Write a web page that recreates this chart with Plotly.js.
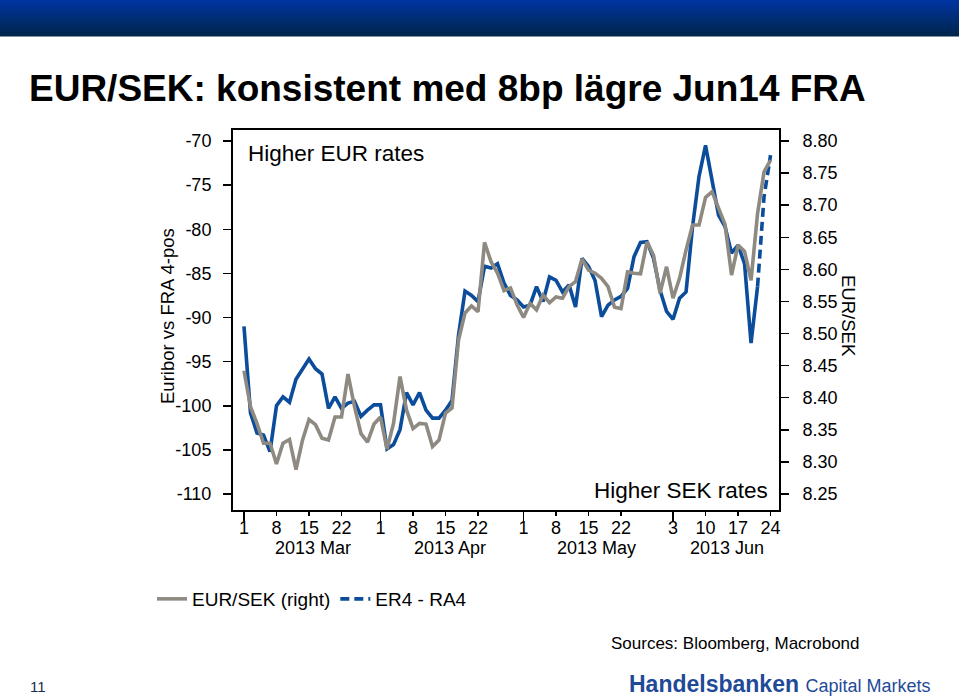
<!DOCTYPE html>
<html>
<head>
<meta charset="utf-8">
<script src="https://cdn.plot.ly/plotly-3.0.1.min.js"></script>
<style>
  html, body { margin: 0; padding: 0; background: #ffffff; }
  #chart { width: 959px; height: 700px; }
</style>
</head>
<body>
<div id="chart"></div>
<script>
// ---------------- data ----------------
const dates = [
  '2013-03-01','2013-03-04','2013-03-05','2013-03-06','2013-03-07','2013-03-08',
  '2013-03-11','2013-03-12','2013-03-13','2013-03-14','2013-03-15',
  '2013-03-18','2013-03-19','2013-03-20','2013-03-21','2013-03-22',
  '2013-03-25','2013-03-26','2013-03-27','2013-03-28','2013-03-29',
  '2013-04-01','2013-04-02','2013-04-03','2013-04-04','2013-04-05',
  '2013-04-08','2013-04-09','2013-04-10','2013-04-11','2013-04-12',
  '2013-04-15','2013-04-16','2013-04-17','2013-04-18','2013-04-19',
  '2013-04-22','2013-04-23','2013-04-24','2013-04-25','2013-04-26',
  '2013-04-29','2013-04-30',
  '2013-05-01','2013-05-02','2013-05-03',
  '2013-05-06','2013-05-07','2013-05-08','2013-05-09','2013-05-10',
  '2013-05-13','2013-05-14','2013-05-15','2013-05-16','2013-05-17',
  '2013-05-20','2013-05-21','2013-05-22','2013-05-23','2013-05-24',
  '2013-05-27','2013-05-28','2013-05-29','2013-05-30','2013-05-31',
  '2013-06-03','2013-06-04','2013-06-05','2013-06-06','2013-06-07',
  '2013-06-10','2013-06-11','2013-06-12','2013-06-13','2013-06-14',
  '2013-06-17','2013-06-18','2013-06-19','2013-06-20','2013-06-21',
  '2013-06-24'
];

// ER4 - RA4 (Euribor vs FRA 4-pos, left axis)
const er4Ra4 = [
  -91.0, -100.8, -103.1, -103.3, -105.2, -100.0,
  -99.0, -99.6, -97.0, -95.8, -94.7,
  -95.8, -96.4, -100.3, -99.0, -100.3,
  -99.7, -99.5, -101.2, -100.5, -99.9,
  -99.9, -104.9, -104.4, -102.7, -98.5,
  -99.9, -98.5, -100.5, -101.4, -101.4,
  -100.5, -99.4, -92.0, -87.0, -87.5,
  -88.2, -84.2, -84.4, -83.9, -86.1,
  -87.5, -88.0,
  -88.8, -88.6, -86.5,
  -88.2, -85.4, -85.8, -87.1, -86.3,
  -88.8, -83.3, -84.2, -85.8, -89.9,
  -88.6, -88.0, -87.6, -86.7, -83.1,
  -81.5, -81.4, -83.3, -86.9, -89.3,
  -90.2, -87.8, -87.1, -79.7, -74.0,
  -70.5, -74.4, -78.4, -79.7, -82.7,
  -81.8, -83.9, -92.9, -86.5, -76.3,
  -71.6
];

// EUR/SEK (right axis)
const eurSek = [
  8.442, 8.386, 8.360, 8.329, 8.329, 8.297,
  8.329, 8.335, 8.288, 8.334, 8.366,
  8.358, 8.337, 8.334, 8.370, 8.370,
  8.437, 8.386, 8.344, 8.331, 8.359,
  8.370, 8.320, 8.360, 8.433, 8.381,
  8.352, 8.360, 8.359, 8.324, 8.334,
  8.376, 8.384, 8.490, 8.532, 8.543,
  8.534, 8.642, 8.612, 8.594, 8.567,
  8.571, 8.545,
  8.525, 8.547, 8.537,
  8.560, 8.548, 8.557, 8.555, 8.573,
  8.581, 8.616, 8.599, 8.594, 8.586,
  8.573, 8.541, 8.539, 8.596, 8.594,
  8.593, 8.643, 8.622, 8.563, 8.604,
  8.555, 8.586, 8.630, 8.669, 8.669,
  8.712, 8.721, 8.695, 8.670, 8.591,
  8.638, 8.628, 8.583, 8.687, 8.752,
  8.770
];

const xTickVals = ['2013-03-01','2013-03-08','2013-03-15','2013-03-22',
                   '2013-04-01','2013-04-08','2013-04-15','2013-04-22',
                   '2013-05-01','2013-05-08','2013-05-15','2013-05-22',
                   '2013-06-03','2013-06-10','2013-06-17','2013-06-24'];
const xTickText = ['1','8','15','22','1','8','15','22','1','8','15','22','3','10','17','24'];
const monthStarts = ['2013-03-01','2013-04-01','2013-05-01','2013-06-03'];
const monthLabels = ['2013 Mar','2013 Apr','2013 May','2013 Jun'];
const monthLabelAt = ['2013-03-15 14:00','2013-04-15 17:00','2013-05-16 07:00','2013-06-13 07:00'];

const leftTickVals = [-70, -75, -80, -85, -90, -95, -100, -105, -110];
const leftTickText = ['-70','-75','-80','-85','-90','-95','-100','-105','-110'];
const rightTickVals = [8.80, 8.75, 8.70, 8.65, 8.60, 8.55, 8.50, 8.45, 8.40, 8.35, 8.30, 8.25];
const rightTickText = ['8.80','8.75','8.70','8.65','8.60','8.55','8.50','8.45','8.40','8.35','8.30','8.25'];

const dashStart = 79; // last part of ER4 - RA4 is drawn dashed

// ---------------- styling ----------------
const FONT = 'Liberation Sans, Arial, Helvetica, sans-serif';
const BLUE = '#0b4c9b';
const GREY = '#8e8a82';
const xRange = ['2013-02-27 07:26', '2013-06-25 07:12'];
const weekendBreaks = [{ bounds: ['sat', 'mon'] }];

const traces = [
  {
    x: dates.slice(0, dashStart + 1), y: er4Ra4.slice(0, dashStart + 1),
    xaxis: 'x', yaxis: 'y', type: 'scatter', mode: 'lines',
    line: { color: BLUE, width: 3.6 }, showlegend: false, hoverinfo: 'skip'
  },
  {
    x: dates.slice(dashStart), y: er4Ra4.slice(dashStart),
    xaxis: 'x', yaxis: 'y', type: 'scatter', mode: 'lines', name: 'ER4 - RA4',
    line: { color: BLUE, width: 3.6, dash: '9px,5px' }, legendrank: 2, hoverinfo: 'skip'
  },
  {
    x: dates, y: eurSek, xaxis: 'x', yaxis: 'y2', type: 'scatter', mode: 'lines',
    name: 'EUR/SEK (right)', line: { color: GREY, width: 3.6 }, legendrank: 1, hoverinfo: 'skip'
  },
  {
    // carrier for the month-start tick axis
    x: [dates[0]], y: [er4Ra4[0]], xaxis: 'x2', yaxis: 'y', type: 'scatter', mode: 'lines',
    line: { width: 0 }, showlegend: false, hoverinfo: 'skip', opacity: 0
  },
  {
    // carrier for the short day tick axis
    x: [dates[0]], y: [er4Ra4[0]], xaxis: 'x3', yaxis: 'y', type: 'scatter', mode: 'lines',
    line: { width: 0 }, showlegend: false, hoverinfo: 'skip', opacity: 0
  }
];

// banner gradient strips
const shapes = [];
const nStrips = 18, bannerH = 36;
for (let k = 0; k < nStrips; k++) {
  const t = k / (nStrips - 1);
  const r = 0, g = Math.round(52 + (38 - 52) * t), b = Math.round(160 + (76 - 160) * t);
  const y0 = k * bannerH / nStrips, y1 = (k + 1) * bannerH / nStrips + 0.5;
  shapes.push({
    type: 'rect', xref: 'paper', yref: 'paper', layer: 'above',
    x0: -233 / 546, x1: 726 / 546,
    y0: (510 - y1) / 380, y1: (510 - y0) / 380,
    line: { width: 0 }, fillcolor: `rgb(${r},${g},${b})`
  });
}

const annotations = [
  { text: '<b>EUR/SEK: konsistent med 8bp lägre Jun14 FRA</b>', xref: 'paper', yref: 'paper',
    x: (27 - 233) / 546, y: (510 - 88) / 380, xanchor: 'left', yanchor: 'middle', showarrow: false,
    font: { family: FONT, size: 37, color: '#000000' } },
  { text: 'Higher EUR rates', xref: 'paper', yref: 'paper', x: (246 - 233) / 546, y: (510 - 153) / 380,
    xanchor: 'left', yanchor: 'middle', showarrow: false, font: { family: FONT, size: 22.5, color: '#000' } },
  { text: 'Higher SEK rates', xref: 'paper', yref: 'paper', x: (770 - 233) / 546, y: (510 - 490) / 380,
    xanchor: 'right', yanchor: 'middle', showarrow: false, font: { family: FONT, size: 22.5, color: '#000' } },
  { text: 'Euribor vs FRA 4-pos', xref: 'paper', yref: 'paper', x: (167 - 233) / 546, y: (510 - 316) / 380,
    xanchor: 'center', yanchor: 'middle', textangle: -90, showarrow: false,
    font: { family: FONT, size: 18.5, color: '#000' } },
  { text: 'EUR/SEK', xref: 'paper', yref: 'paper', x: (849 - 233) / 546, y: (510 - 316) / 380,
    xanchor: 'center', yanchor: 'middle', textangle: 90, showarrow: false,
    font: { family: FONT, size: 18.5, color: '#000' } },
  { text: 'Sources: Bloomberg, Macrobond', xref: 'paper', yref: 'paper', x: (862 - 233) / 546, y: (510 - 643) / 380,
    xanchor: 'right', yanchor: 'middle', showarrow: false, font: { family: FONT, size: 17, color: '#000' } },
  { text: '11', xref: 'paper', yref: 'paper', x: (28 - 233) / 546, y: (510 - 686) / 380,
    xanchor: 'left', yanchor: 'middle', showarrow: false, font: { family: FONT, size: 15, color: '#1a2a4f' } },
  { text: '<b>Handelsbanken</b> <span style="font-size:18px">Capital Markets</span>', xref: 'paper', yref: 'paper',
    x: (627 - 233) / 546, y: (510 - 684) / 380, xanchor: 'left', yanchor: 'middle', showarrow: false,
    font: { family: FONT, size: 23, color: '#1f4a98' } }
];
for (let m = 0; m < monthLabels.length; m++) {
  annotations.push({ text: monthLabels[m], xref: 'x', yref: 'paper', x: monthLabelAt[m], y: (510 - 548) / 380,
    xanchor: 'center', yanchor: 'middle', showarrow: false, font: { family: FONT, size: 18, color: '#000' } });
}

const layout = {
  width: 959, height: 700,
  margin: { l: 233, r: 180, t: 130, b: 190 },
  paper_bgcolor: '#ffffff', plot_bgcolor: '#ffffff',
  font: { family: FONT, size: 18, color: '#000000' },
  showlegend: true,
  legend: { orientation: 'h', x: (152 - 233) / 546, xanchor: 'left', y: (510 - 580) / 380, yanchor: 'top',
            font: { family: FONT, size: 19, color: '#000' }, bgcolor: 'rgba(0,0,0,0)', traceorder: 'normal' },
  xaxis: {
    type: 'date', range: xRange, rangebreaks: weekendBreaks,
    tickmode: 'array', tickvals: xTickVals, ticktext: xTickText, ticks: '',
    showline: true, linewidth: 2, linecolor: '#000', mirror: true,
    showgrid: false, zeroline: false, tickfont: { family: FONT, size: 18, color: '#000' }
  },
  xaxis2: {
    type: 'date', range: xRange, rangebreaks: weekendBreaks, overlaying: 'x', anchor: 'y', side: 'bottom',
    tickmode: 'array', tickvals: monthStarts, ticks: 'outside', ticklen: 10, tickwidth: 1.5, tickcolor: '#000',
    showticklabels: false, showline: false, showgrid: false, zeroline: false
  },
  xaxis3: {
    type: 'date', range: xRange, rangebreaks: weekendBreaks, overlaying: 'x', anchor: 'y', side: 'bottom',
    tickmode: 'array', tickvals: xTickVals, ticks: 'outside', ticklen: 5, tickwidth: 1.5, tickcolor: '#000',
    showticklabels: false, showline: false, showgrid: false, zeroline: false
  },
  yaxis: {
    range: [-111.81, -68.75], tickmode: 'array', tickvals: leftTickVals, ticktext: leftTickText,
    ticks: 'outside', ticklen: 8, tickwidth: 1.5, tickcolor: '#000',
    showline: true, linewidth: 2, linecolor: '#000', showgrid: false, zeroline: false,
    tickfont: { family: FONT, size: 18, color: '#000' }, ticklabelstandoff: 8
  },
  yaxis2: {
    range: [8.2251, 8.8171], overlaying: 'y', side: 'right', anchor: 'x',
    tickmode: 'array', tickvals: rightTickVals, ticktext: rightTickText,
    ticks: 'outside', ticklen: 8, tickwidth: 1.5, tickcolor: '#000',
    showline: true, linewidth: 2, linecolor: '#000', showgrid: false, zeroline: false,
    tickfont: { family: FONT, size: 18, color: '#000' }, ticklabelstandoff: 10
  },
  shapes: shapes,
  annotations: annotations,
  hovermode: false
};

Plotly.newPlot('chart', traces, layout, { displayModeBar: false, staticPlot: true });
</script>
</body>
</html>
